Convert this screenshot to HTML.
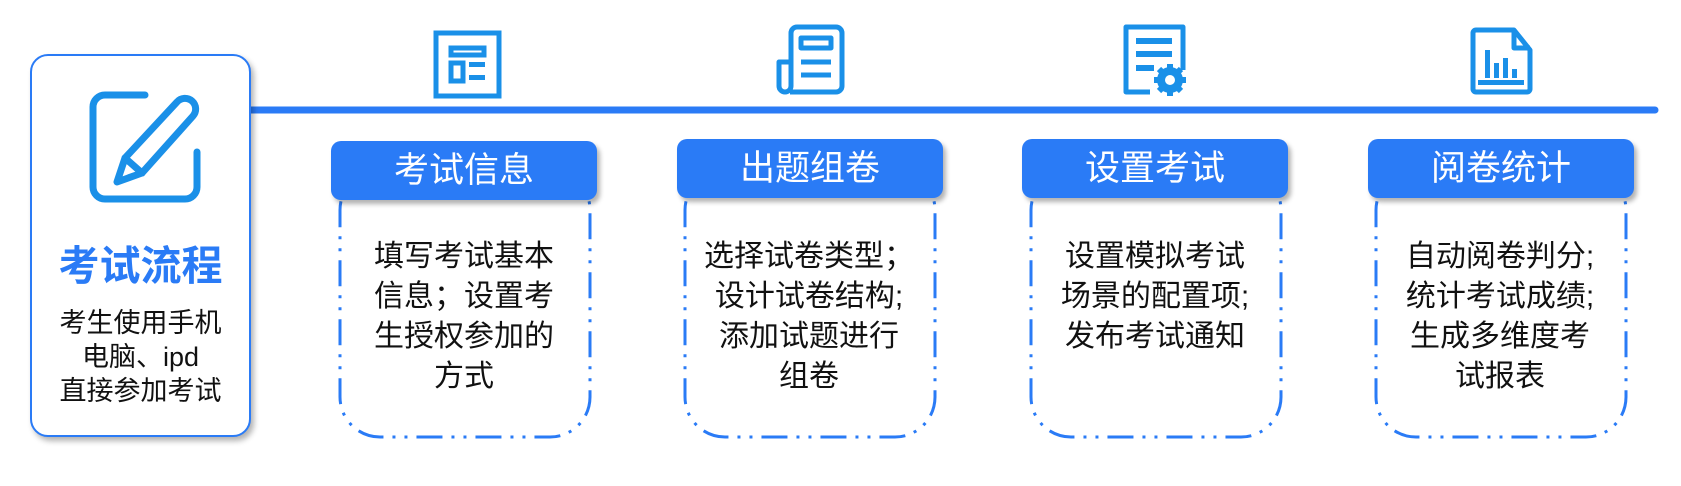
<!DOCTYPE html>
<html><head><meta charset="utf-8"><style>
body{margin:0;width:1681px;height:486px;background:#fff;position:relative;overflow:hidden;font-family:"Liberation Sans","Noto Sans CJK SC",sans-serif}
.left{position:absolute;left:30px;top:54px;width:217px;height:379px;border:2px solid #2a7bf6;border-radius:18px;box-shadow:3px 4px 6px rgba(0,0,0,.3);background:#fff}
.t{position:absolute;width:100%;text-align:center}
.hdr{position:absolute;height:59px;width:266px;background:#2a7bf6;border-radius:10px;box-shadow:3px 4px 5px rgba(0,0,0,.3);color:#fff;font-size:35px;line-height:59px;text-align:center}
.txt{position:absolute;width:270px;text-align:center;font-size:30px;line-height:40px;color:#111}
svg{position:absolute;left:0;top:0}
</style></head><body>
<svg width="1681" height="486">
<line x1="251" y1="110" x2="1655" y2="110" stroke="#2a7bf6" stroke-width="7" stroke-linecap="round"/>
<g fill="none" stroke="#2a7bf6" stroke-width="3" stroke-dasharray="26 9 3 9 3 9">
<rect x="340" y="170" width="250" height="267" rx="40"/>
<rect x="685" y="170" width="250" height="267" rx="40"/>
<rect x="1031" y="170" width="250" height="267" rx="40"/>
<rect x="1376" y="170" width="250" height="267" rx="40"/>
</g>
<g fill="none" stroke="#1a90e8" stroke-width="5">
<rect x="436" y="33" width="63" height="63"/>
<rect x="451" y="48" width="33" height="7"/>
<rect x="451" y="63" width="12" height="18"/>
</g>
<g fill="#1a90e8"><rect x="469" y="62" width="16" height="5"/><rect x="469" y="75" width="16" height="5"/></g>
<g fill="none" stroke="#1a90e8" stroke-width="5" stroke-linejoin="round">
<path d="M790 92 H836 a6 6 0 0 0 6-6 V33 a6 6 0 0 0-6-6 H797 a6 6 0 0 0-6 6 V86 a6 6 0 0 1-12 0 V62 h12"/>
<rect x="801" y="38" width="30" height="10"/>
<line x1="801" y1="62" x2="831" y2="62"/><line x1="801" y1="75" x2="831" y2="75"/>
</g>
<g fill="none" stroke="#1a90e8" stroke-width="5" stroke-linejoin="round">
<path d="M1150 92 H1126 V27 H1183 V70"/>
</g>
<g fill="#1a90e8"><rect x="1136" y="38" width="36" height="6"/><rect x="1136" y="51" width="36" height="6"/><rect x="1136" y="65" width="18" height="6"/>
<circle cx="1170" cy="80" r="13"/></g>
<g stroke="#1a90e8" stroke-width="6"><line x1="1170" y1="64" x2="1170" y2="96"/><line x1="1154" y1="80" x2="1186" y2="80"/><line x1="1159" y1="69" x2="1181" y2="91"/><line x1="1181" y1="69" x2="1159" y2="91"/></g>
<circle cx="1170" cy="80" r="5" fill="#fff"/>
<g fill="none" stroke="#1a90e8" stroke-width="5" stroke-linejoin="round">
<path d="M1476 30 H1514 L1530 50 V89 a3 3 0 0 1-3 3 H1476 a3 3 0 0 1-3-3 V33 a3 3 0 0 1 3-3Z"/>
<path d="M1514 30 V48 H1530"/>
</g>
<g fill="#1a90e8"><rect x="1478" y="80" width="46" height="5"/><rect x="1485" y="50" width="5" height="28"/><rect x="1494" y="63" width="5" height="15"/><rect x="1503" y="58" width="5" height="20"/><rect x="1512" y="69" width="5" height="9"/></g>
</svg>
<div class="left">
<svg width="217" height="379" style="left:0;top:0">
<g fill="none" stroke="#1a90e8" stroke-width="7" stroke-linecap="round" stroke-linejoin="round">
<path d="M113 39 H73 a12 12 0 0 0-12 12 V131 a12 12 0 0 0 12 12 H153 a12 12 0 0 0 12-12 V96"/>
<path d="M85 126 L93 102 L145 46 a9 9 0 0 1 16 14 L110 117 Z"/>
<path d="M93 102 L110 117"/>
</g>
</svg>
<div class="t" style="top:176px;font-size:41px;font-weight:bold;color:#2a7bf6">考试流程</div>
<div class="t" style="top:250px;font-size:27px;line-height:34px;color:#111">考生使用手机<br>电脑、ipd<br>直接参加考试</div>
</div>
<div class="hdr" style="left:331px;top:141px">考试信息</div>
<div class="hdr" style="left:677px;top:139px">出题组卷</div>
<div class="hdr" style="left:1022px;top:139px">设置考试</div>
<div class="hdr" style="left:1368px;top:139px">阅卷统计</div>
<div class="txt" style="left:329px;top:237px">填写考试基本<br>信息；设置考<br>生授权参加的<br>方式</div>
<div class="txt" style="left:674px;top:237px">选择试卷类型；<br>设计试卷结构;<br>添加试题进行<br>组卷</div>
<div class="txt" style="left:1020px;top:237px">设置模拟考试<br>场景的配置项;<br>发布考试通知</div>
<div class="txt" style="left:1365px;top:237px">自动阅卷判分;<br>统计考试成绩;<br>生成多维度考<br>试报表</div>
</body></html>
